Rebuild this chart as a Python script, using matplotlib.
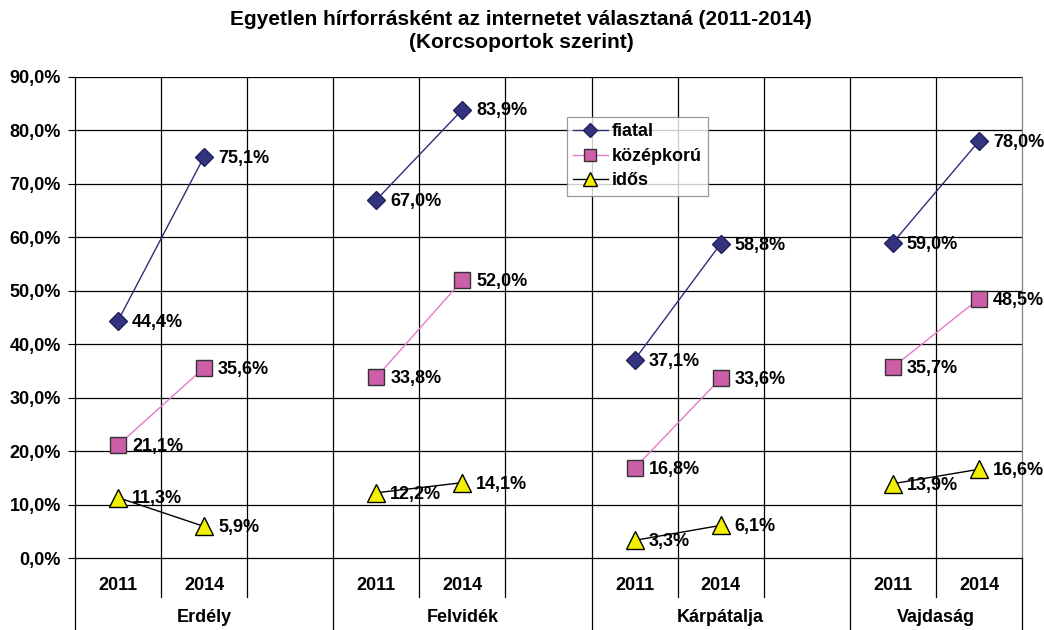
import matplotlib
matplotlib.use('Agg')
import matplotlib.pyplot as plt
import matplotlib.transforms as mtransforms
import numpy as np

plt.rcParams['font.family'] = ['Liberation Sans', 'DejaVu Sans']
plt.rcParams['font.weight'] = 'bold'

regions = ['Erdély', 'Felvidék', 'Kárpátalja', 'Vajdaság']
years = ['2011', '2014']
fiatal = [44.4, 75.1, 67.0, 83.9, 37.1, 58.8, 59.0, 78.0]
kozepkoru = [21.1, 35.6, 33.8, 52.0, 16.8, 33.6, 35.7, 48.5]
idos = [11.3, 5.9, 12.2, 14.1, 3.3, 6.1, 13.9, 16.6]

series = [
	('fiatal', fiatal, dict(marker='D', color='#2E2E78', markerfacecolor='#333380', markeredgecolor='#22225A', markersize=9.5)),
	('középkorú', kozepkoru, dict(marker='s', color='#E47AC8', markerfacecolor='#CC5FA8', markeredgecolor='#333333', markersize=11)),
	('idős', idos, dict(marker='^', color='black', markerfacecolor='#F0F000', markeredgecolor='black', markersize=13)),
]

def fmt(v):
	return ('%.1f%%' % v).replace('.', ',')

FS = 13

fig = plt.figure(figsize=(10.44, 6.3), dpi=100)
ax = fig.add_axes([75 / 1044, 72 / 630, (1022 - 75) / 1044, (558 - 77) / 630])

# x positions: 3 slots per region, last region has only 2
xpos = []
for r in range(len(regions)):
	xpos += [r * 3, r * 3 + 1]

for name, vals, style in series:
	for r in range(len(regions)):
		xs = xpos[2 * r:2 * r + 2]
		ys = vals[2 * r:2 * r + 2]
		ax.plot(xs, ys, lw=1, zorder=3, label=name if r == 0 else None, **style)
		for x, y in zip(xs, ys):
			ax.annotate(fmt(y), (x, y), xytext=(10, -1), textcoords='offset points',
				ha='left', va='center', fontsize=FS, fontweight='bold', zorder=4)

ax.set_xlim(-0.5, 10.5)
ax.set_ylim(0, 90)
ax.set_yticks(np.arange(0, 91, 10))
ax.set_yticklabels([fmt(v) for v in np.arange(0, 91, 10)], fontsize=FS, fontweight='bold')
ax.tick_params(axis='y', length=5, width=0.8, pad=5)
ax.set_xticks([])
for v in np.arange(10, 91, 10):
	ax.axhline(v, color='black', lw=0.9, zorder=1)
for x in np.arange(0.5, 10, 1):
	ax.axvline(x, color='black', lw=0.9, zorder=1)
for s in ['left', 'right', 'bottom', 'top']:
	ax.spines[s].set_linewidth(0.9)
ax.spines['top'].set_visible(False)
ax.spines['right'].set_color('#808080')

trans = mtransforms.blended_transform_factory(ax.transData, ax.transAxes)
short = -39 / 481
long_ = -72 / 481
for x in np.arange(0.5, 10, 1):
	bottom = long_ if x in (2.5, 5.5, 8.5) else short
	ax.plot([x, x], [0, bottom], transform=trans, color='black', lw=0.9, clip_on=False)
for x in (-0.5, 10.5):
	ax.plot([x, x], [0, long_], transform=trans, color='black', lw=0.9, clip_on=False)

for i, x in enumerate(xpos):
	ax.text(x, -27 / 481, years[i % 2], transform=trans, ha='center', va='center', fontsize=FS, fontweight='bold')
group_bounds = [(-0.5, 2.5), (2.5, 5.5), (5.5, 8.5), (8.5, 10.5)]
for name, (a, b) in zip(regions, group_bounds):
	ax.text((a + b) / 2, -59 / 481, name, transform=trans, ha='center', va='center', fontsize=FS, fontweight='bold')

leg = ax.legend(loc='upper left', bbox_to_anchor=(567 / 1044, 1 - 117 / 630), bbox_transform=fig.transFigure,
	fontsize=FS, frameon=True, fancybox=False, handlelength=1.9, borderpad=0.35, labelspacing=0.42,
	handletextpad=0.25, borderaxespad=0, markerscale=0.8)
leg.get_frame().set_edgecolor('#808080')
leg.get_frame().set_linewidth(0.9)
for t in leg.get_texts():
	t.set_fontweight('bold')

fig.text(0.499, 1 - 10 / 630, 'Egyetlen hírforrásként az internetet választaná (2011-2014)\n(Korcsoportok szerint)',
	ha='center', va='top', fontsize=15, fontweight='bold', linespacing=1.3)

fig.savefig('out.png', dpi=100)
